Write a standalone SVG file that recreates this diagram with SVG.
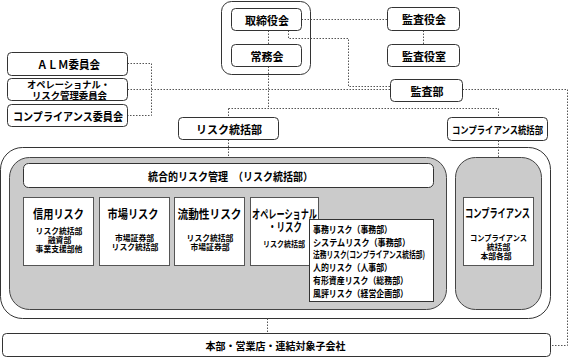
<svg xmlns="http://www.w3.org/2000/svg" width="570" height="358" viewBox="0 0 570 358">
<style>
.box{fill:#fff;stroke:#333;stroke-width:1}
.frame{fill:#fff;stroke:#333;stroke-width:1}
.gray{fill:#cbcbcb;stroke:#444;stroke-width:1}
.rb{fill:#fff;stroke:#555;stroke-width:1}
.conn path{fill:none;stroke:#555;stroke-width:1;stroke-dasharray:1.5 1.5}
text{font-family:"Noto Sans CJK JP","Noto Sans",sans-serif;font-weight:bold;fill:#000;text-anchor:middle;dominant-baseline:central}
.t11{font-size:11px}
.t10{font-size:10px}
.t9{font-size:9.5px}
.t12{font-size:12px}
.t8{font-size:7.8px}
.l10{font-size:9.5px;text-anchor:start}
</style>
<rect width="570" height="358" fill="#fff"/>
<g id="board-group">
<rect class="frame" x="221.5" y="1.5" width="89" height="73" rx="10"/>
</g>
<g id="outer-frame">
<rect class="frame" x="0.5" y="147.5" width="550" height="171" rx="22"/>
</g>
<g class="conn" id="connectors">
<path d="M268.5 30.5V44.5"/>
<path d="M268.5 66.5V108.5M228.5 108.5H498.5M228.5 108.5V117.5M498.5 108.5V117.5"/>
<path d="M301.5 19.5H387.5"/>
<path d="M423.5 30.5V44.5"/>
<path d="M288.5 30.5V38.5H348.5V86.5H390.5"/>
<path d="M127.5 63.5H151.5V115.5H127.5"/>
<path d="M127.5 89.5H390.5"/>
<path d="M462.5 89.5H567.5V345.5H550.5"/>
<path d="M267.5 318.5V333.5"/>
<path d="M228.5 139.5V157.5"/>
<path d="M498.5 140.5V157.5"/>
</g>
<g id="torishimariyakukai">
<rect class="box" x="231.5" y="8.5" width="70" height="22" rx="4"/>
<text class="t11" x="267" y="19.5">取締役会</text>
</g>
<g id="jomukai">
<rect class="box" x="231.5" y="44.5" width="70" height="22" rx="4"/>
<text class="t11" x="267" y="55.5">常務会</text>
</g>
<g id="kansayakukai">
<rect class="box" x="387.5" y="7.5" width="72" height="23" rx="4"/>
<text class="t11" x="424" y="19">監査役会</text>
</g>
<g id="kansayakushitsu">
<rect class="box" x="387.5" y="44.5" width="72" height="22" rx="4"/>
<text class="t11" x="424" y="55.5">監査役室</text>
</g>
<g id="kansabu">
<rect class="box" x="390.5" y="79.5" width="72" height="22" rx="4"/>
<text class="t11" x="427" y="90.5">監査部</text>
</g>
<g id="alm">
<rect class="box" x="7.5" y="52.5" width="120" height="23" rx="4"/>
<text class="t11" x="68.5" y="64" textLength="63" lengthAdjust="spacingAndGlyphs">ＡＬＭ委員会</text>
</g>
<g id="oprisk-committee">
<rect class="box" x="7.5" y="78.5" width="120" height="22" rx="4"/>
<text class="t9"><tspan x="68.5" y="84" textLength="83" lengthAdjust="spacingAndGlyphs">オペレーショナル・</tspan><tspan x="69.5" y="95" textLength="75" lengthAdjust="spacingAndGlyphs">リスク管理委員会</tspan></text>
</g>
<g id="compliance-committee">
<rect class="box" x="7.5" y="104.5" width="120" height="22" rx="4"/>
<text class="t11" x="68" y="115.5" textLength="110" lengthAdjust="spacingAndGlyphs">コンプライアンス委員会</text>
</g>
<g id="risk-dept">
<rect class="box" x="178.5" y="117.5" width="100" height="22" rx="4"/>
<text class="t11" x="229" y="128.5">リスク統括部</text>
</g>
<g id="compliance-dept">
<rect class="box" x="447.5" y="117.5" width="100" height="23" rx="4"/>
<text class="t10" x="497.5" y="129" textLength="91" lengthAdjust="spacingAndGlyphs">コンプライアンス統括部</text>
</g>
<g id="integrated-risk">
<rect class="gray" x="9.5" y="157.5" width="437" height="152" rx="20"/>
<rect class="box" x="23.5" y="163.5" width="410" height="24" rx="5"/>
<text class="t11" x="230.5" y="176" textLength="165" lengthAdjust="spacingAndGlyphs">統合的リスク管理　（リスク統括部）</text>
</g>
<g id="credit-risk">
<rect class="rb" x="23.5" y="197.5" width="70" height="68"/>
<text class="t12" x="58.5" y="213" textLength="51" lengthAdjust="spacingAndGlyphs">信用リスク</text>
<text class="t8"><tspan x="59" y="229.5">リスク統括部</tspan><tspan x="59.5" y="238.5">融資部</tspan><tspan x="59" y="247.5">事業支援部他</tspan></text>
</g>
<g id="market-risk">
<rect class="rb" x="99.5" y="197.5" width="70" height="68"/>
<text class="t12" x="133" y="213" textLength="51" lengthAdjust="spacingAndGlyphs">市場リスク</text>
<text class="t8"><tspan x="134.5" y="236.5">市場証券部</tspan><tspan x="135" y="245.5">リスク統括部</tspan></text>
</g>
<g id="liquidity-risk">
<rect class="rb" x="174.5" y="197.5" width="70" height="68"/>
<text class="t12" x="209.5" y="213" textLength="64" lengthAdjust="spacingAndGlyphs">流動性リスク</text>
<text class="t8"><tspan x="210" y="236.5">リスク統括部</tspan><tspan x="210" y="245.5">市場証券部</tspan></text>
</g>
<g id="operational-risk">
<rect class="rb" x="250.5" y="197.5" width="68" height="68"/>
<text class="t12"><tspan x="284.5" y="212.5" textLength="65" lengthAdjust="spacingAndGlyphs">オペレーショナル</tspan><tspan x="285" y="225.5" textLength="34" lengthAdjust="spacingAndGlyphs">・リスク</tspan></text>
<text class="t8" x="284" y="243" textLength="42" lengthAdjust="spacingAndGlyphs">リスク統括部</text>
</g>
<g id="operational-risk-list">
<rect class="box" x="309.5" y="219.5" width="124" height="82"/>
<text class="l10"><tspan x="313" y="229" textLength="79" lengthAdjust="spacingAndGlyphs">事務リスク（事務部）</tspan><tspan x="313" y="241.7" textLength="97" lengthAdjust="spacingAndGlyphs">システムリスク（事務部）</tspan><tspan x="313" y="254.4" textLength="112" lengthAdjust="spacingAndGlyphs">法務リスク(コンプライアンス統括部)</tspan><tspan x="313" y="267.1" textLength="79" lengthAdjust="spacingAndGlyphs">人的リスク（人事部）</tspan><tspan x="313" y="279.8" textLength="95" lengthAdjust="spacingAndGlyphs">有形資産リスク（総務部）</tspan><tspan x="313" y="292.5" textLength="95" lengthAdjust="spacingAndGlyphs">風評リスク（経営企画部）</tspan></text>
</g>
<g id="compliance">
<rect class="gray" x="455.5" y="157.5" width="86" height="152" rx="20"/>
<rect class="rb" x="463.5" y="197.5" width="70" height="68"/>
<text class="t12" x="497.5" y="212.5" textLength="65" lengthAdjust="spacingAndGlyphs">コンプライアンス</text>
<text class="t8"><tspan x="498.5" y="236.5" textLength="57" lengthAdjust="spacingAndGlyphs">コンプライアンス</tspan><tspan x="498.5" y="245.5">統括部</tspan><tspan x="496" y="254.5">本部各部</tspan></text>
</g>
<g id="branches">
<rect class="box" x="2.5" y="333.5" width="548" height="23" rx="4"/>
<text class="t10" x="275.5" y="345">本部・営業店・連結対象子会社</text>
</g>
</svg>
